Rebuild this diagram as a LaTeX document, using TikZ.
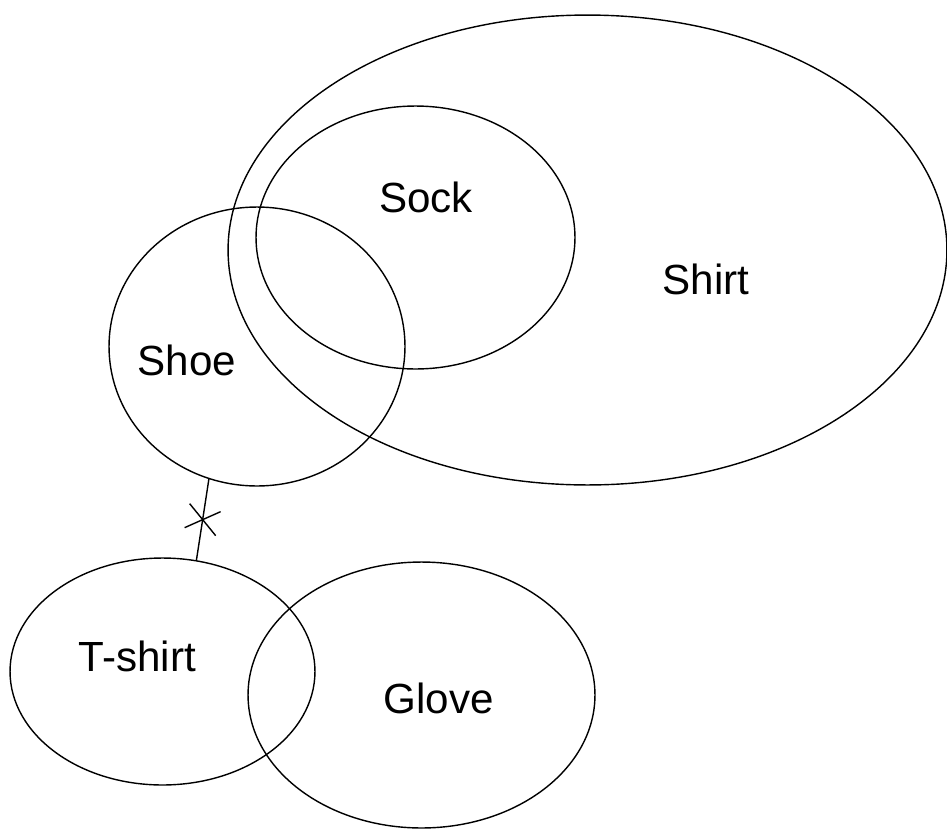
\documentclass[tikz,border=0pt]{standalone}
\usepackage{fontspec}
\setmainfont{Liberation Sans}
\usetikzlibrary{shapes.geometric}
\begin{document}
\begin{tikzpicture}[x=0.02cm, y=-0.02cm]
  \useasboundingbox (0, 0) rectangle (947, 829);  % Rahmen wie Vorlage.
  \tikzstyle{set}=[ellipse, draw, line width=0.8pt, inner sep=0pt, outer sep=0pt]
  \tikzstyle{word}=[font=\fontsize{24}{28}\selectfont, inner sep=0pt]

  \node[set, minimum width=14.38cm, minimum height=9.40cm] (shirt)  at (587.5, 250)   {};
  \node[set, minimum width=6.38cm,  minimum height=5.26cm] (sock)   at (415.5, 237.5) {};
  \node[set, minimum width=5.92cm,  minimum height=5.58cm] (shoe)   at (257,   346.5) {};
  \node[set, minimum width=6.10cm,  minimum height=4.54cm] (tshirt) at (162.5, 671.5) {};
  \node[set, minimum width=6.94cm,  minimum height=5.32cm] (glove)  at (421.5, 695)   {};

  \node[word] (shirtname)  at (706,   279)   {Shirt};
  \node[word] (sockname)   at (426,   197.5) {Sock};
  \node[word] (shoename)   at (187,   360)   {Shoe};
  \node[word] (tshirtname) at (137.5, 656)   {T-shirt};
  \node[word] (glovename)  at (438.5, 698)   {Glove};

  \draw[line width=0.8pt] (shoe.250) -- coordinate[pos=0.5] (cut) (tshirt.73);
  \draw[line width=0.8pt] ([shift={(-13, -16)}]cut) -- ([shift={(13, 16)}]cut);
  \draw[line width=0.8pt] ([shift={(-18, 8)}]cut)   -- ([shift={(18, -8)}]cut);
\end{tikzpicture}
\end{document}
